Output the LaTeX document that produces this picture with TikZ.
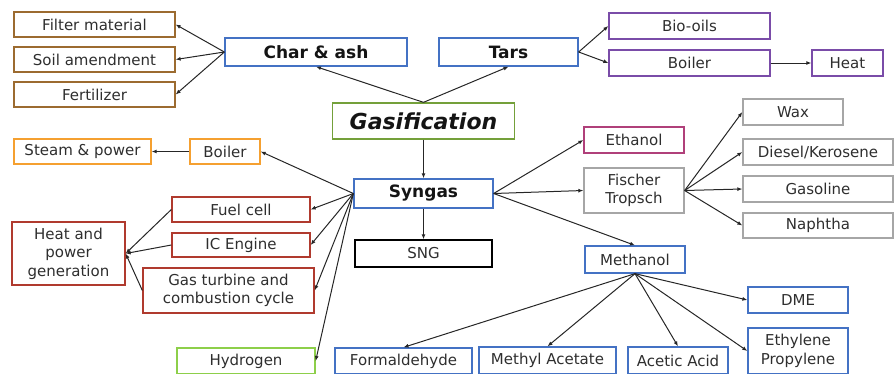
\documentclass[tikz,border=0pt]{standalone}
\usepackage{fontspec}
\setmainfont{DejaVu Sans}
\usetikzlibrary{arrows.meta}

\definecolor{brownb}{HTML}{9C6B30}
\definecolor{blueb}{HTML}{4472C4}
\definecolor{greenb}{HTML}{74A03A}
\definecolor{purpleb}{HTML}{7A4CA8}
\definecolor{grayb}{HTML}{A6A6A6}
\definecolor{magb}{HTML}{B0407A}
\definecolor{orangeb}{HTML}{F5A030}
\definecolor{redb}{HTML}{B03A2E}
\definecolor{limeb}{HTML}{8DCF4A}

\begin{document}
\begin{tikzpicture}[x=1pt, y=-1pt,
    box/.style = {draw=#1, line width=1.3pt, inner sep=0pt, align=center, text=black!82,
                  font=\fontsize{15}{18.5}\selectfont},
    head/.style = {box=#1, text=black!92, font=\fontsize{17}{20}\selectfont\bfseries},
    arr/.style = {-{Latex[length=5pt, width=4pt]}, line width=1pt, black!85}]

    \useasboundingbox (0, 0) rectangle (895, 373);

    \node[box=brownb, minimum width=161, minimum height=25] (filter) at (94.5, 24.5) {Filter material};
    \node[box=brownb, minimum width=161, minimum height=25] (soil) at (94.5, 59.5) {Soil amendment};
    \node[box=brownb, minimum width=161, minimum height=25] (fert) at (94.5, 94.5) {Fertilizer};
    \node[head=blueb, minimum width=182, minimum height=28] (char) at (316, 52) {Char \& ash};
    \node[head=blueb, minimum width=139, minimum height=28] (tars) at (508.5, 52) {Tars};
    \node[head=greenb, minimum width=182, minimum height=36, font=\fontsize{22}{26}\selectfont\bfseries\itshape] (gasif) at (423.5, 121) {Gasification};

    \node[box=purpleb, minimum width=161, minimum height=26] (biooil) at (689.5, 26) {Bio-oils};
    \node[box=purpleb, minimum width=161, minimum height=26] (tboiler) at (689.5, 63) {Boiler};
    \node[box=purpleb, minimum width=71, minimum height=26] (heat) at (847.5, 63) {Heat};

    %--------------------------------------------

    \node[box=orangeb, minimum width=137, minimum height=25] (steam) at (82.5, 151.5) {Steam \& power};
    \node[box=orangeb, minimum width=70, minimum height=25] (sboiler) at (225, 151.5) {Boiler};
    \node[head=blueb, minimum width=139, minimum height=29] (syngas) at (423.5, 193.5) {Syngas};
    \node[box=black, minimum width=137, minimum height=27] (sng) at (423.5, 253.5) {SNG};
    \node[box=redb, minimum width=138, minimum height=25] (fuel) at (241, 209.5) {Fuel cell};
    \node[box=redb, minimum width=138, minimum height=24] (ice) at (241, 245) {IC Engine};
    \node[box=redb, minimum width=113, minimum height=63] (hpg) at (68.5, 253.5) {Heat and\\power\\generation};
    \node[box=redb, minimum width=171, minimum height=45] (gasturb) at (228.5, 290.5) {Gas turbine and\\combustion cycle};
    \node[box=limeb, minimum width=138, minimum height=26] (hydrogen) at (246, 361) {Hydrogen};

    %--------------------------------------------

    \node[box=magb, minimum width=100, minimum height=26] (ethanol) at (634, 140) {Ethanol};
    \node[box=grayb, minimum width=100, minimum height=45] (ft) at (634, 190.5) {Fischer\\Tropsch};
    \node[box=blueb, minimum width=100, minimum height=27] (methanol) at (635, 259.5) {Methanol};
    \node[box=grayb, minimum width=100, minimum height=26] (wax) at (793, 112) {Wax};
    \node[box=grayb, minimum width=150, minimum height=26] (diesel) at (818, 152) {Diesel/Kerosene};
    \node[box=grayb, minimum width=150, minimum height=26] (gasoline) at (818, 189) {Gasoline};
    \node[box=grayb, minimum width=150, minimum height=25] (naphtha) at (818, 225.5) {Naphtha};
    \node[box=blueb, minimum width=100, minimum height=26] (dme) at (798, 300) {DME};
    \node[box=blueb, minimum width=100, minimum height=46] (ethyl) at (798, 351) {Ethylene\\Propylene};
    \node[box=blueb, minimum width=137, minimum height=26] (formal) at (403.5, 361) {Formaldehyde};
    \node[box=blueb, minimum width=137, minimum height=27] (methac) at (547.5, 360.5) {Methyl Acetate};
    \node[box=blueb, minimum width=100, minimum height=27] (acetic) at (678, 360.5) {Acetic Acid};

    %--------------------------------------------

    \draw[arr] (char.west) -- (filter.east);
    \draw[arr] (char.west) -- (soil.east);
    \draw[arr] (char.west) -- (fert.east);
    \draw[arr] (gasif.north) -- (char.south);
    \draw[arr] (gasif.north) -- (tars.south);
    \draw[arr] (tars.east) -- (biooil.west);
    \draw[arr] (tars.east) -- (tboiler.west);
    \draw[arr] (tboiler.east) -- (heat.west);
    \draw[arr] (gasif.south) -- (syngas.north);
    \draw[arr] (syngas.south) -- (sng.north);

    \draw[arr] (syngas.west) -- (sboiler.east);
    \draw[arr] (sboiler.west) -- (steam.east);
    \draw[arr] (syngas.west) -- (fuel.east);
    \draw[arr] (syngas.west) -- (ice.east);
    \draw[arr] (syngas.west) -- (gasturb.east);
    \draw[arr] (syngas.west) -- (hydrogen.east);
    \draw[arr] (fuel.west) -- (hpg.east);
    \draw[arr] (ice.west) -- (hpg.east);
    \draw[arr] (gasturb.west) -- (hpg.east);

    \draw[arr] (syngas.east) -- (ethanol.west);
    \draw[arr] (syngas.east) -- (ft.west);
    \draw[arr] (syngas.east) -- (methanol.north);
    \draw[arr] (ft.east) -- (wax.west);
    \draw[arr] (ft.east) -- (diesel.west);
    \draw[arr] (ft.east) -- (gasoline.west);
    \draw[arr] (ft.east) -- (naphtha.west);

    \draw[arr] (methanol.south) -- (formal.north);
    \draw[arr] (methanol.south) -- (methac.north);
    \draw[arr] (methanol.south) -- (acetic.north);
    \draw[arr] (methanol.south) -- (dme.west);
    \draw[arr] (methanol.south) -- (ethyl.west);

\end{tikzpicture}
\end{document}
